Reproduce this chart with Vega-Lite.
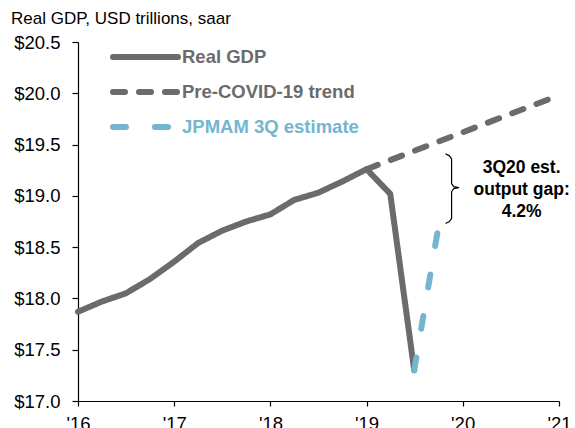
{
  "$schema": "https://vega.github.io/schema/vega-lite/v6.json",
  "width": 481,
  "height": 359,
  "autosize": "none",
  "padding": {"left": 78, "top": 42, "right": 16, "bottom": 27},
  "background": "white",
  "config": {
    "font": "Liberation Sans",
    "view": {"stroke": null},
    "axis": {"grid": false, "domainColor": "black", "tickColor": "black", "labelColor": "black", "labelFont": "Liberation Sans", "labelFontSize": 18.5, "domainWidth": 1.2, "tickWidth": 1.2}
  },
  "title": {
    "text": "Real GDP, USD trillions, saar",
    "anchor": "start",
    "frame": "group",
    "fontSize": 17,
    "fontWeight": "normal",
    "color": "black",
    "font": "Liberation Sans",
    "baseline": "alphabetic",
    "offset": 19,
    "dx": -67,
    "dy": 27
  },
  "datasets": {
    "gdp": [
      {"date": "2016-01-01", "series": "Real GDP", "value": 17.87},
      {"date": "2016-04-01", "series": "Real GDP", "value": 17.97},
      {"date": "2016-07-01", "series": "Real GDP", "value": 18.05},
      {"date": "2016-10-01", "series": "Real GDP", "value": 18.19},
      {"date": "2017-01-01", "series": "Real GDP", "value": 18.36},
      {"date": "2017-04-01", "series": "Real GDP", "value": 18.54},
      {"date": "2017-07-01", "series": "Real GDP", "value": 18.66},
      {"date": "2017-10-01", "series": "Real GDP", "value": 18.75},
      {"date": "2018-01-01", "series": "Real GDP", "value": 18.82},
      {"date": "2018-04-01", "series": "Real GDP", "value": 18.96},
      {"date": "2018-07-01", "series": "Real GDP", "value": 19.03},
      {"date": "2018-10-01", "series": "Real GDP", "value": 19.14},
      {"date": "2019-01-01", "series": "Real GDP", "value": 19.26},
      {"date": "2019-04-01", "series": "Real GDP", "value": 19.02},
      {"date": "2019-07-01", "series": "Real GDP", "value": 17.30},
      {"date": "2019-01-01", "series": "Pre-COVID-19 trend", "value": 19.26},
      {"date": "2021-01-01", "series": "Pre-COVID-19 trend", "value": 19.98},
      {"date": "2019-07-01", "series": "JPMAM 3Q estimate", "value": 17.30},
      {"date": "2019-10-01", "series": "JPMAM 3Q estimate", "value": 18.70}
    ],
    "brace": [
      {"o": 1, "date": "2019-10-28", "value": 19.41},
      {"o": 2, "date": "2019-11-12", "value": 19.39},
      {"o": 3, "date": "2019-11-20", "value": 19.36},
      {"o": 4, "date": "2019-11-20", "value": 19.12},
      {"o": 5, "date": "2019-11-28", "value": 19.09},
      {"o": 6, "date": "2019-12-17", "value": 19.08},
      {"o": 7, "date": "2019-11-28", "value": 19.07},
      {"o": 8, "date": "2019-11-20", "value": 19.04},
      {"o": 9, "date": "2019-11-20", "value": 18.78},
      {"o": 10, "date": "2019-11-12", "value": 18.75},
      {"o": 11, "date": "2019-10-28", "value": 18.73}
    ],
    "note": [
      {"date": "2020-08-12", "value": 19.27, "label": "3Q20 est.\noutput gap:\n4.2%"}
    ]
  },
  "layer": [
    {
      "data": {"name": "gdp"},
      "mark": {"type": "line", "strokeWidth": 6, "strokeCap": "round", "strokeJoin": "round"},
      "encoding": {
        "x": {
          "field": "date", "type": "temporal",
          "scale": {"type": "utc", "domain": ["2016-01-01", "2021-01-01"]},
          "axis": {"title": null, "format": "'%y", "tickCount": {"interval": "year", "step": 1}, "tickSize": 5, "labelPadding": 8, "labelFlush": false, "labelOverlap": false}
        },
        "y": {
          "field": "value", "type": "quantitative",
          "scale": {"domain": [17, 20.5], "nice": false, "zero": false},
          "axis": {"title": null, "format": "$.1f", "values": [17, 17.5, 18, 18.5, 19, 19.5, 20, 20.5], "tickSize": 6, "labelPadding": 12}
        },
        "color": {
          "field": "series", "type": "nominal",
          "scale": {"domain": ["Real GDP", "Pre-COVID-19 trend", "JPMAM 3Q estimate"], "range": ["#6b6b6b", "#6b6b6b", "#74b5d0"]},
          "legend": {
            "title": null,
            "orient": "none",
            "legendX": 32,
            "legendY": 5,
            "symbolType": "stroke",
            "symbolSize": 4225,
            "symbolStrokeWidth": 6,
            "clipHeight": 20,
            "labelFontSize": 18.5,
            "labelFontWeight": "bold",
            "labelFont": "Liberation Sans",
            "labelColor": "#6b6b6b",
            "labelOffset": 1,
            "rowPadding": 15,
            "labelLimit": 300,
            "encode": {
              "labels": {"update": {"fill": {"signal": "datum.label == 'JPMAM 3Q estimate' ? '#74b5d0' : '#6b6b6b'"}}},
              "symbols": {"update": {"strokeCap": {"value": "round"}}}
            }
          }
        },
        "strokeDash": {
          "field": "series", "type": "nominal",
          "scale": {"domain": ["Real GDP", "Pre-COVID-19 trend", "JPMAM 3Q estimate"], "range": [[1, 0], [12, 14], [13, 29]]},
          "legend": null
        }
      }
    },
    {
      "data": {"name": "brace"},
      "mark": {"type": "line", "color": "black", "strokeWidth": 1.2, "strokeJoin": "round"},
      "encoding": {
        "x": {"field": "date", "type": "temporal"},
        "y": {"field": "value", "type": "quantitative"},
        "order": {"field": "o", "type": "quantitative"}
      }
    },
    {
      "data": {"name": "note"},
      "mark": {"type": "text", "fontSize": 17.5, "fontWeight": "bold", "color": "black", "align": "center", "baseline": "middle", "lineBreak": "\n", "lineHeight": 22, "font": "Liberation Sans"},
      "encoding": {
        "x": {"field": "date", "type": "temporal"},
        "y": {"field": "value", "type": "quantitative"},
        "text": {"field": "label"}
      }
    }
  ]
}
